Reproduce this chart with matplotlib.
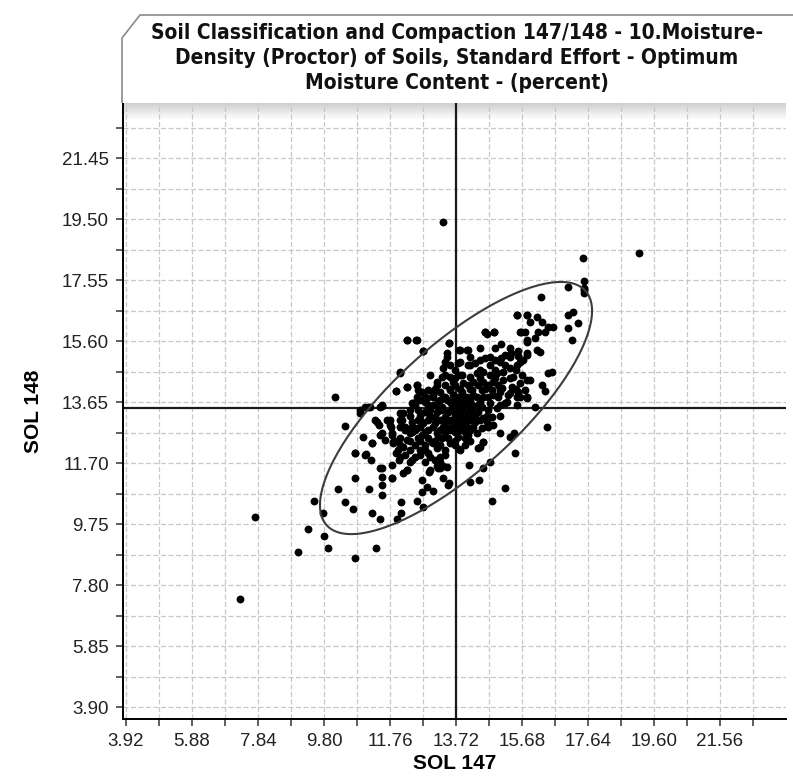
import numpy as np
import matplotlib
matplotlib.use("Agg")
import matplotlib.pyplot as plt
from matplotlib.patches import Polygon
from matplotlib.ticker import FixedLocator, FormatStrFormatter

# ---- data (SOL 147 , SOL 148) ----
sparse_low = [(7.31, 7.35), (7.75, 9.97), (9.03, 8.86), (9.32, 9.59), (9.80, 9.37), (9.92, 8.98),
              (10.72, 8.66), (11.34, 8.98), (9.50, 10.48), (9.77, 10.10), (10.22, 10.87), (10.42, 10.45),
              (10.66, 10.23), (10.72, 11.22), (10.72, 12.02), (10.42, 12.88), (10.96, 12.53), (11.05, 11.99),
              (11.14, 10.87), (11.23, 10.10), (11.46, 9.91), (11.52, 10.68), (11.52, 11.00), (11.52, 11.25),
              (11.52, 11.54), (11.82, 11.22), (11.97, 9.91), (12.09, 10.45), (12.09, 10.10), (12.26, 11.48),
              (12.56, 10.48), (12.74, 10.29), (12.71, 10.77), (12.86, 10.93), (12.92, 11.41), (13.04, 10.81),
              (13.33, 11.22), (13.51, 11.06), (13.19, 11.54), (13.45, 11.57), (14.11, 11.64), (14.14, 11.09),
              (14.79, 10.48), (15.18, 10.90), (14.40, 11.16), (10.13, 13.81), (13.33, 19.41), (19.16, 18.42)]

sparse_right = [(14.37, 12.18), (15.03, 12.66), (15.44, 12.66), (15.32, 12.53), (14.52, 12.37), (13.81, 12.15),
                (15.47, 12.02), (14.73, 11.73), (14.52, 11.54), (13.33, 11.61), (13.25, 11.54), (13.16, 11.61),
                (13.48, 11.00), (16.42, 12.85), (14.43, 12.21)]

upper_band = [(16.07, 13.49), (16.36, 14.00), (15.83, 13.78), (15.53, 13.81), (15.18, 13.62), (16.27, 14.20),
              (15.92, 14.36), (16.57, 14.61), (16.45, 14.58), (16.13, 15.31), (16.21, 15.25), (15.83, 15.22),
              (15.56, 15.12), (16.07, 15.70), (15.83, 15.63), (15.77, 15.89), (16.16, 15.89), (16.36, 15.89),
              (16.60, 16.05), (16.45, 16.05), (16.27, 16.21), (16.13, 16.37), (15.92, 16.21), (15.83, 16.43),
              (15.53, 16.43), (15.62, 15.89), (16.24, 17.01), (17.05, 17.33), (17.52, 17.52), (17.52, 17.23),
              (17.52, 17.14), (17.52, 17.30), (17.05, 16.43), (17.19, 16.53), (17.34, 16.18), (17.05, 16.02),
              (17.17, 15.63), (17.49, 18.26), (14.58, 15.89), (14.85, 15.89), (14.64, 15.83), (12.26, 15.63),
              (12.53, 15.63), (12.74, 15.28), (13.51, 15.54), (13.84, 15.31), (14.08, 15.31)]

left_band = [(12.06, 14.58), (11.94, 14.00), (12.26, 14.13), (12.56, 14.20), (11.02, 13.49), (11.17, 13.49),
             (11.52, 13.52), (10.87, 13.30), (11.23, 12.34), (11.37, 13.01), (11.67, 13.08), (11.76, 12.92),
             (12.06, 13.08), (12.15, 13.30), (12.15, 12.85), (11.82, 12.60), (11.85, 12.37), (11.52, 12.66),
             (12.41, 13.62)]

core = [(15.53, 16.43), (15.83, 16.43), (15.65, 15.89), (14.58, 15.89), (14.85, 15.89), (13.51, 15.54),
        (13.81, 15.31), (14.05, 15.31), (13.45, 15.22), (13.45, 15.09), (15.06, 15.51), (15.83, 15.57),
        (15.56, 15.28), (15.35, 15.22), (15.18, 15.15), (15.06, 15.06), (14.88, 14.99), (14.58, 15.06),
        (14.43, 14.99), (14.28, 14.90), (14.08, 14.83), (13.78, 14.90), (13.33, 14.74), (15.83, 15.15),
        (15.71, 14.99), (15.53, 14.83), (15.32, 14.74), (15.12, 14.61), (14.94, 14.58), (14.73, 14.51),
        (14.52, 14.61), (14.34, 14.58), (14.14, 14.45), (13.90, 14.51), (13.54, 14.45), (13.30, 14.45),
        (13.16, 14.29), (13.63, 14.29), (13.93, 14.26), (14.22, 14.29), (14.52, 14.29), (14.82, 14.29),
        (15.12, 14.36), (15.41, 14.45), (15.68, 14.51), (15.83, 14.36), (15.62, 14.26), (15.38, 14.13),
        (15.09, 14.10), (14.79, 14.04), (14.49, 14.04), (14.20, 14.04), (13.90, 13.97), (13.54, 14.04),
        (13.25, 13.97), (13.04, 13.81), (13.39, 13.81), (13.75, 13.81), (14.05, 13.81), (14.34, 13.81),
        (14.67, 13.81), (14.97, 13.81), (15.26, 13.88), (15.56, 13.97), (15.77, 14.04),
        (12.26, 15.63), (12.56, 15.63), (12.74, 15.28), (12.06, 14.61), (11.94, 14.00), (12.26, 14.13),
        (12.56, 14.20), (12.71, 13.97), (12.89, 14.04), (13.16, 14.20), (13.04, 13.88), (12.56, 13.81),
        (12.80, 13.81),
        (11.23, 12.34), (10.72, 12.02), (11.02, 11.96), (11.20, 11.80), (11.31, 13.08), (11.43, 12.92),
        (11.46, 12.60), (11.61, 12.44), (11.76, 13.08), (11.79, 12.85), (11.82, 12.66), (11.85, 12.34),
        (11.94, 12.02), (12.03, 11.80), (11.82, 11.64), (11.46, 11.54), (11.82, 11.22), (12.15, 11.38),
        (12.26, 11.48), (12.95, 11.48), (12.71, 11.16), (12.12, 13.08), (12.21, 12.85), (12.35, 12.66),
        (12.26, 12.44), (12.15, 12.21), (12.35, 12.12), (12.50, 11.89), (12.41, 11.80), (12.06, 13.30),
        (12.35, 13.40), (12.59, 13.40), (12.44, 13.62), (12.65, 13.72), (12.86, 13.78), (13.16, 13.56),
        (12.95, 13.17), (12.74, 12.98), (12.56, 12.82), (12.71, 12.60), (12.89, 12.76), (13.10, 12.98),
        (13.16, 12.66), (13.01, 12.37), (12.80, 12.28), (12.65, 12.12), (12.89, 12.02), (13.16, 12.18),
        (13.10, 11.80), (11.46, 13.49), (11.11, 13.49), (10.87, 13.40), (11.52, 13.56), (12.59, 14.04),
        (13.04, 13.94), (13.33, 13.81), (13.63, 13.88), (13.93, 13.81), (14.22, 13.88), (14.52, 13.81),
        (14.82, 13.88), (15.03, 13.97), (15.32, 13.94), (15.62, 13.81), (15.83, 13.81), (15.23, 13.65),
        (15.53, 13.56), (13.04, 13.56), (13.30, 13.49), (13.60, 13.56), (13.90, 13.49), (14.20, 13.56),
        (14.49, 13.49), (14.73, 13.62), (14.94, 13.46), (13.10, 13.17), (13.39, 13.17), (13.69, 13.24),
        (13.99, 13.17), (14.28, 13.24), (14.52, 13.14), (14.79, 13.17), (13.04, 12.85), (13.33, 12.85),
        (13.60, 12.85), (13.93, 12.92), (14.22, 12.85), (14.49, 12.82), (14.82, 12.92), (13.19, 12.53),
        (13.48, 12.50), (13.78, 12.53), (14.08, 12.60), (14.34, 12.66), (13.04, 12.34), (13.54, 12.34),
        (14.52, 12.37),
        (13.25, 13.72), (13.45, 13.72), (13.69, 13.72), (13.99, 13.72), (14.14, 13.72),
        (12.80, 13.33), (13.16, 13.33), (13.48, 13.33), (13.78, 13.33), (14.08, 13.33), (14.37, 13.33),
        (12.59, 13.08), (12.89, 13.08), (13.25, 13.08), (13.54, 13.08), (13.84, 13.08), (14.14, 13.08),
        (14.43, 13.08), (12.41, 12.69), (12.80, 12.69), (13.39, 12.69), (13.69, 12.69), (13.99, 12.69),
        (12.06, 12.28), (12.50, 12.28), (13.25, 12.28), (13.69, 12.28), (13.99, 12.28), (12.21, 11.96),
        (12.65, 11.96), (13.39, 11.96), (12.95, 14.51), (13.39, 14.51), (13.84, 14.51), (13.54, 14.83),
        (14.14, 14.83), (14.73, 14.83), (15.18, 14.83),
        (13.39, 14.20), (13.69, 14.20), (14.08, 14.20), (14.37, 14.20), (14.67, 14.20), (14.97, 14.20),
        (12.80, 13.65), (13.19, 13.65), (13.54, 13.65), (13.84, 13.65), (14.14, 13.65), (14.43, 13.65),
        (12.95, 13.40), (13.30, 13.40), (13.60, 13.40), (13.90, 13.40), (14.20, 13.40), (14.67, 13.40),
        (12.41, 13.01), (12.71, 13.01), (13.39, 13.01), (13.69, 13.01), (13.99, 13.01), (14.28, 13.01),
        (14.64, 13.01), (12.21, 12.76), (12.50, 12.76), (13.25, 12.76), (13.54, 12.76), (13.84, 12.76),
        (14.14, 12.76), (12.06, 12.50), (12.59, 12.50), (12.89, 12.50), (13.30, 12.50), (13.99, 12.50),
        (12.00, 12.12), (12.80, 12.12), (13.39, 12.12), (13.84, 12.12), (12.35, 11.73), (12.80, 11.73),
        (13.25, 11.73), (13.69, 14.67), (14.43, 14.67), (14.88, 14.67), (15.50, 14.67), (14.14, 15.09),
        (14.73, 15.09), (15.32, 15.09),
        (13.10, 14.07), (13.54, 14.07), (13.84, 14.07), (14.14, 14.07), (14.58, 14.07), (15.03, 14.07),
        (15.50, 14.07), (12.50, 13.56), (12.89, 13.56), (13.78, 13.56), (14.08, 13.56), (14.37, 13.56),
        (15.03, 13.56), (12.35, 13.20), (12.65, 13.20), (12.95, 13.20), (13.84, 13.20), (14.14, 13.20),
        (14.64, 13.20), (15.03, 13.20), (12.06, 12.85), (12.41, 12.85), (12.65, 12.85), (13.45, 12.85),
        (13.75, 12.85), (14.05, 12.85), (14.67, 12.85), (11.91, 12.41), (12.35, 12.41), (12.65, 12.41),
        (13.10, 12.41), (13.69, 12.41), (14.14, 12.41), (12.06, 11.89), (12.95, 11.89), (13.25, 11.89),
        (13.69, 14.42), (14.43, 14.42), (14.88, 14.42), (15.32, 14.42), (13.39, 14.93), (13.84, 14.93),
        (15.03, 14.93), (15.62, 14.93), (14.43, 15.38), (14.88, 15.38), (15.32, 15.38)]

mean_147 = 13.72
mean_148 = 13.46
ell_sd_147 = 4.04
ell_sd_148 = 4.03
ell_corr = 0.77

x_ticks = [3.92, 5.88, 7.84, 9.80, 11.76, 13.72, 15.68, 17.64, 19.60, 21.56]
y_ticks = [3.90, 5.85, 7.80, 9.75, 11.70, 13.65, 15.60, 17.55, 19.50, 21.45]

title = ("Soil Classification and Compaction 147/148 - 10.Moisture-\n"
         "Density (Proctor) of Soils, Standard Effort - Optimum\n"
         "Moisture Content - (percent)")

pts = np.array(sparse_low + sparse_right + upper_band + left_band + core)

fig = plt.figure(figsize=(7.93, 7.78), dpi=100)
ax = fig.add_axes([123 / 793, 59 / 778, (786 - 123) / 793, (719 - 103) / 778])

# grey shading under the title box
grad = np.linspace(0.80, 1.0, 40).reshape(-1, 1)
ax.imshow(grad, extent=[0, 1, 0.972, 1], transform=ax.transAxes, cmap="gray",
          vmin=0, vmax=1, aspect="auto", zorder=0, interpolation="bilinear")

ax.scatter(pts[:, 0], pts[:, 1], s=32, color="black", linewidths=0, zorder=3)

ax.axvline(mean_147, color="#1a1a1a", lw=1.6, zorder=2)
ax.axhline(mean_148, color="#1a1a1a", lw=1.6, zorder=2)

t = np.linspace(0, 2 * np.pi, 200)
ex = mean_147 + ell_sd_147 * np.cos(t)
ey = mean_148 + ell_sd_148 * (ell_corr * np.cos(t) + np.sqrt(1 - ell_corr ** 2) * np.sin(t))
ax.plot(ex, ey, color="#3c3c3c", lw=1.5, zorder=4)

ax.set_xlim(3.83, 23.52)
ax.set_ylim(3.52, 23.21)

ax.xaxis.set_major_locator(FixedLocator(x_ticks))
ax.yaxis.set_major_locator(FixedLocator(y_ticks))
ax.xaxis.set_minor_locator(FixedLocator([v + 0.98 for v in x_ticks]))
ax.yaxis.set_minor_locator(FixedLocator([v + 0.975 for v in y_ticks]))
ax.xaxis.set_major_formatter(FormatStrFormatter("%.2f"))
ax.yaxis.set_major_formatter(FormatStrFormatter("%.2f"))
ax.grid(True, which="both", color="#c8c8c8", lw=0.9, linestyle=(0, (4, 2)), zorder=1)
ax.set_axisbelow(True)

for s in ["top", "right"]:
    ax.spines[s].set_visible(False)
ax.spines["left"].set_linewidth(1.4)
ax.spines["bottom"].set_linewidth(1.4)
ax.tick_params(which="both", direction="out", length=5, width=1.1, color="#333333")
ax.tick_params(which="major", labelsize=13.5, pad=5)
for lab in ax.get_xticklabels() + ax.get_yticklabels():
    lab.set_family("Liberation Sans")
    lab.set_color("#222222")

ax.set_xlabel("SOL 147", family="Liberation Sans", fontsize=15, fontweight="bold", labelpad=3)
ax.set_ylabel("SOL 148", family="Liberation Sans", fontsize=15, fontweight="bold", labelpad=14)

# title box with bevelled corner
bx = [122 / 793, 122 / 793, 140 / 793, 1.01, 1.01]
by = [1 - 103 / 778, 1 - 38 / 778, 1 - 15 / 778, 1 - 15 / 778, 1 - 103 / 778]
fig.patches.append(Polygon(list(zip(bx, by)), closed=False, transform=fig.transFigure,
                           facecolor="white", edgecolor="#8a8a8a", lw=1.2))
fig.text(457 / 793, 1 - 58 / 778, title, ha="center", va="center", fontsize=15,
         fontweight="bold", family="DejaVu Sans", fontstretch="condensed",
         linespacing=1.3, color="#111111")

fig.savefig("out.png", dpi=100)
